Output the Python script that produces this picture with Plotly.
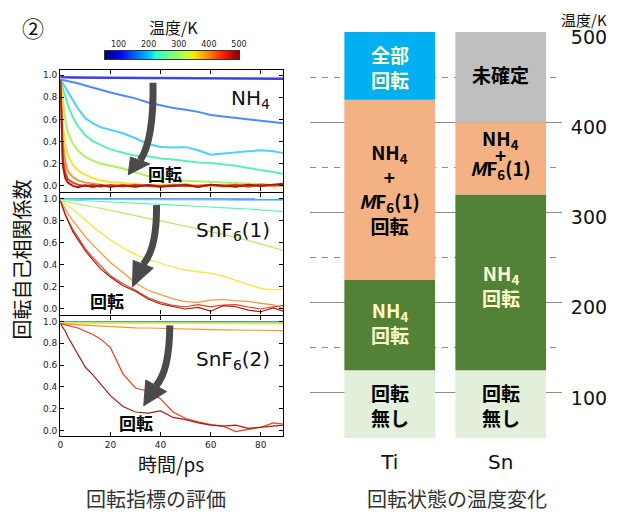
import plotly.graph_objects as go

W, H = 620, 520
# the page body keeps the browser's default 8px margin, so the figure sits 8px in
OFF_X, OFF_Y = 8, 8
JP = "Noto Sans CJK JP"
SANS = "DejaVu Sans"


def px(x):
    return (x - OFF_X) / W


def py(y):
    return 1 - (y - OFF_Y) / H


# --- rotational autocorrelation curves (left) ---
time_ps = [0, 1, 2, 3, 5, 7, 10, 13, 16, 20, 25, 30, 35, 40, 45, 50, 55, 60, 65, 70, 75, 80, 85, 89]

nh4_100 = [0.980, 0.978, 0.977, 0.977, 0.976, 0.976, 0.975, 0.975, 0.975, 0.974, 0.974, 0.973, 0.972, 0.972, 0.971, 0.970, 0.970, 0.969, 0.968, 0.968, 0.967, 0.966, 0.965, 0.965]
nh4_150 = [0.985, 0.984, 0.983, 0.983, 0.982, 0.982, 0.981, 0.980, 0.980, 0.979, 0.978, 0.977, 0.977, 0.976, 0.975, 0.975, 0.974, 0.973, 0.973, 0.972, 0.971, 0.971, 0.970, 0.970]
nh4_200 = [0.960, 0.956, 0.952, 0.947, 0.937, 0.926, 0.905, 0.885, 0.866, 0.842, 0.815, 0.790, 0.752, 0.725, 0.703, 0.687, 0.668, 0.640, 0.627, 0.614, 0.604, 0.590, 0.572, 0.565]
nh4_250 = [0.960, 0.930, 0.890, 0.850, 0.780, 0.700, 0.610, 0.565, 0.530, 0.505, 0.475, 0.430, 0.378, 0.352, 0.346, 0.350, 0.322, 0.282, 0.290, 0.302, 0.312, 0.322, 0.312, 0.296]
nh4_300 = [0.960, 0.880, 0.800, 0.730, 0.620, 0.540, 0.455, 0.405, 0.370, 0.330, 0.300, 0.272, 0.268, 0.248, 0.238, 0.226, 0.212, 0.208, 0.196, 0.182, 0.162, 0.142, 0.122, 0.110]
nh4_350 = [0.960, 0.750, 0.600, 0.480, 0.380, 0.320, 0.262, 0.228, 0.202, 0.182, 0.158, 0.120, 0.090, 0.072, 0.056, 0.048, 0.042, 0.034, 0.030, 0.022, 0.018, 0.014, 0.010, 0.006]
nh4_400 = [0.960, 0.550, 0.380, 0.280, 0.190, 0.140, 0.100, 0.070, 0.050, 0.035, 0.028, 0.014, 0.004, 0.012, 0.000, 0.008, -0.005, 0.006, 0.000, 0.010, -0.004, 0.005, 0.000, 0.004]
nh4_450 = [0.960, 0.400, 0.220, 0.130, 0.080, 0.050, 0.030, 0.020, 0.012, 0.000, 0.010, -0.005, 0.008, 0.000, 0.012, -0.004, 0.006, 0.010, -0.006, 0.004, 0.012, 0.000, 0.008, 0.005]
nh4_475 = [0.960, 0.250, 0.120, 0.060, 0.030, 0.012, 0.000, 0.010, -0.006, 0.008, -0.004, 0.010, 0.000, -0.008, 0.006, 0.012, -0.004, 0.008, 0.000, 0.010, -0.006, 0.012, 0.004, 0.010]
nh4_500 = [0.960, 0.180, 0.070, 0.030, 0.000, -0.012, 0.005, -0.010, 0.006, -0.008, 0.004, -0.006, 0.008, -0.004, 0.000, 0.006, -0.010, 0.010, 0.004, -0.006, 0.010, 0.000, 0.012, 0.020]

sn1_100 = [0.998, 0.998, 0.998, 0.998, 0.998, 0.997, 0.997, 0.997, 0.997, 0.997, 0.997, 0.997, 0.997, 0.996, 0.996, 0.996, 0.996, 0.996, 0.996, 0.996, 0.995, 0.995, 0.995, 0.995]
sn1_250 = [0.996, 0.995, 0.995, 0.995, 0.994, 0.994, 0.993, 0.993, 0.992, 0.992, 0.991, 0.990, 0.990, 0.989, 0.989, 0.988, 0.988, 0.987, 0.987, 0.986, 0.986, 0.985, 0.985, 0.985]
sn1_300 = [0.990, 0.990, 0.989, 0.988, 0.986, 0.984, 0.980, 0.977, 0.974, 0.970, 0.965, 0.958, 0.952, 0.945, 0.940, 0.935, 0.928, 0.920, 0.915, 0.910, 0.905, 0.895, 0.888, 0.882]
sn1_350 = [0.980, 0.976, 0.972, 0.968, 0.960, 0.952, 0.938, 0.925, 0.912, 0.893, 0.870, 0.846, 0.822, 0.800, 0.775, 0.752, 0.726, 0.700, 0.676, 0.648, 0.620, 0.590, 0.556, 0.530]
sn1_400 = [0.980, 0.966, 0.951, 0.936, 0.902, 0.866, 0.805, 0.745, 0.690, 0.625, 0.555, 0.492, 0.448, 0.412, 0.380, 0.352, 0.336, 0.322, 0.298, 0.262, 0.222, 0.184, 0.172, 0.180]
sn1_450 = [0.980, 0.940, 0.900, 0.865, 0.800, 0.740, 0.655, 0.580, 0.510, 0.420, 0.330, 0.235, 0.170, 0.130, 0.092, 0.066, 0.060, 0.080, 0.086, 0.074, 0.068, 0.050, 0.038, 0.002]
sn1_475 = [0.980, 0.915, 0.860, 0.810, 0.720, 0.650, 0.545, 0.465, 0.390, 0.300, 0.228, 0.170, 0.102, 0.060, 0.030, 0.020, 0.040, 0.020, 0.036, 0.040, 0.018, 0.000, 0.020, 0.030]
sn1_500 = [0.980, 0.910, 0.850, 0.800, 0.700, 0.630, 0.525, 0.445, 0.365, 0.290, 0.210, 0.160, 0.090, 0.045, 0.020, 0.000, 0.015, -0.020, 0.030, 0.020, -0.010, -0.025, 0.010, -0.020]

sn2_100 = [0.999, 0.999, 0.999, 0.999, 0.999, 0.999, 0.998, 0.998, 0.998, 0.998, 0.998, 0.998, 0.998, 0.998, 0.998, 0.997, 0.997, 0.997, 0.997, 0.997, 0.997, 0.997, 0.997, 0.997]
sn2_250 = [0.996, 0.996, 0.996, 0.996, 0.995, 0.995, 0.995, 0.995, 0.995, 0.994, 0.994, 0.994, 0.994, 0.993, 0.993, 0.993, 0.993, 0.993, 0.992, 0.992, 0.992, 0.992, 0.992, 0.992]
sn2_350 = [0.990, 0.990, 0.990, 0.990, 0.989, 0.989, 0.989, 0.989, 0.988, 0.988, 0.988, 0.988, 0.987, 0.987, 0.987, 0.987, 0.986, 0.986, 0.986, 0.986, 0.985, 0.985, 0.985, 0.985]
sn2_400 = [0.985, 0.985, 0.984, 0.984, 0.984, 0.983, 0.983, 0.983, 0.982, 0.982, 0.982, 0.981, 0.981, 0.981, 0.980, 0.980, 0.980, 0.979, 0.979, 0.979, 0.978, 0.978, 0.978, 0.978]
sn2_450 = [0.980, 0.978, 0.976, 0.975, 0.972, 0.970, 0.966, 0.962, 0.958, 0.952, 0.946, 0.942, 0.940, 0.936, 0.932, 0.930, 0.928, 0.925, 0.923, 0.922, 0.920, 0.918, 0.917, 0.916]
sn2_475 = [0.980, 0.975, 0.970, 0.965, 0.955, 0.940, 0.910, 0.880, 0.840, 0.760, 0.520, 0.390, 0.360, 0.290, 0.170, 0.110, 0.080, 0.055, 0.040, -0.010, 0.010, 0.030, 0.070, 0.060]
sn2_500 = [0.980, 0.950, 0.910, 0.860, 0.780, 0.700, 0.580, 0.510, 0.430, 0.320, 0.220, 0.170, 0.160, 0.180, 0.120, 0.100, 0.070, 0.050, 0.040, 0.050, 0.020, 0.030, 0.040, 0.050]

TEMP_COLORS = {
    100: "#3c3ce0", 150: "#7272ff", 200: "#4a8cff", 250: "#4dcfff", 300: "#5ef0b0",
    350: "#b2f060", 400: "#ffe033", 450: "#ff9233", 475: "#f03c1e", 500: "#a01e14",
}

panels = [
    ("1", 2.0, [(150, nh4_150), (100, nh4_100), (200, nh4_200), (250, nh4_250), (300, nh4_300),
                (350, nh4_350), (400, nh4_400), (450, nh4_450), (475, nh4_475), (500, nh4_500)]),
    ("2", 1.2, [(100, sn1_100), (250, sn1_250), (300, sn1_300), (350, sn1_350), (400, sn1_400),
                (450, sn1_450), (475, sn1_475), (500, sn1_500)]),
    ("3", 1.2, [(100, sn2_100), (250, sn2_250), (350, sn2_350), (400, sn2_400), (450, sn2_450),
                (475, sn2_475), (500, sn2_500)]),
]

# temperature scale strip (colour key)
scale_ends = [55, 500]
scale_ticks = [100, 200, 300, 400, 500]

# --- rotation-state temperature ranges (right) ---
metals = ["Ti", "Sn"]
ti_edges = [50, 125, 225, 425, 500]
sn_edges = [50, 125, 320, 400, 500]
ti_colors = ["#e2efda", "#538135", "#f4b183", "#00b0f0"]
sn_colors = ["#e2efda", "#538135", "#f4b183", "#bfbfbf"]
temp_ticks = [100, 200, 300, 400, 500]
temp_minor = [50, 150, 250, 350, 450]

JET = [[0.0, "#00007f"], [0.11, "#0000ff"], [0.34, "#00d4ff"], [0.375, "#29ffce"],
       [0.5, "#7dff7a"], [0.625, "#ceff29"], [0.66, "#ffe600"], [0.75, "#ff9700"],
       [0.89, "#ff1300"], [1.0, "#7f0000"]]

fig = go.Figure()

for n, width, curves in panels:
    ax = "" if n == "1" else n
    for temp, vals in curves:
        fig.add_trace(go.Scatter(
            x=time_ps, y=vals, mode="lines",
            line=dict(color=TEMP_COLORS[temp], width=width),
            xaxis="x" + ax, yaxis="y" + ax, showlegend=False, hoverinfo="skip",
        ))

# colour key drawn as a smoothed 1-row heatmap on its own small axes
fig.add_trace(go.Heatmap(
    x=scale_ends, y=[0], z=[scale_ends], colorscale=JET, zmin=scale_ends[0], zmax=scale_ends[1],
    zsmooth="best", showscale=False, hoverinfo="skip", xaxis="x5", yaxis="y5",
))

for i in range(4):
    fig.add_trace(go.Bar(
        x=metals,
        y=[ti_edges[i + 1] - ti_edges[i], sn_edges[i + 1] - sn_edges[i]],
        base=[ti_edges[i], sn_edges[i]],
        marker=dict(color=[ti_colors[i], sn_colors[i]], line=dict(width=0)),
        width=0.817, xaxis="x4", yaxis="y4", showlegend=False, hoverinfo="skip",
    ))

frame = dict(showline=True, linecolor="black", linewidth=1.3, mirror="ticks",
             ticks="inside", ticklen=4, tickcolor="black", showgrid=False, zeroline=False)
ytick = dict(tickvals=[0, 0.2, 0.4, 0.6, 0.8, 1.0], ticktext=["0.0", "0.2", "0.4", "0.6", "0.8", "1.0"],
             tickfont=dict(size=9, color="#222", family=SANS), range=[-0.05, 1.05])
xdom = [px(60.3), px(283.3)]
xtick = dict(tickvals=[0, 20, 40, 60, 80], range=[0, 89], domain=xdom)

fig.update_layout(
    width=W, height=H, margin=dict(l=0, r=0, t=0, b=0, autoexpand=False),
    paper_bgcolor="white", plot_bgcolor="white", barmode="overlay", showlegend=False,
    font=dict(family=SANS, color="#111"),
    xaxis=dict(**frame, **xtick, anchor="y", showticklabels=False),
    yaxis=dict(**frame, **ytick, anchor="x", domain=[py(191.5), py(69.5)]),
    xaxis2=dict(**frame, **xtick, anchor="y2", showticklabels=False),
    yaxis2=dict(**frame, **ytick, anchor="x2", domain=[py(314.5), py(193)]),
    xaxis3=dict(**frame, **xtick, anchor="y3", tickfont=dict(size=9, color="#222", family=SANS)),
    yaxis3=dict(**frame, **ytick, anchor="x3", domain=[py(436), py(316)]),
    xaxis4=dict(domain=[px(310), px(562)], range=[-0.718, 1.552], anchor="y4",
                showline=False, showgrid=False, zeroline=False,
                ticks="outside", ticklen=6, tickcolor="rgba(0,0,0,0)",
                tickfont=dict(size=20, color="#111", family=SANS)),
    yaxis4=dict(domain=[py(438), py(32)], range=[50, 500], anchor="x4", side="right",
                tickvals=temp_ticks, showgrid=True, gridcolor="#8c8c8c", gridwidth=1.2,
                zeroline=False, showline=False, ticks="outside", ticklen=4,
                tickcolor="rgba(0,0,0,0)", ticklabelshift=5,
                tickfont=dict(size=19, color="#111", family=SANS),
                minor=dict(tickvals=temp_minor, showgrid=True, gridcolor="#8c8c8c",
                           gridwidth=1.2, griddash="6px,6px")),
    xaxis5=dict(domain=[px(105), px(239)], range=scale_ends, anchor="y5", side="top",
                tickvals=scale_ticks, ticks="", showgrid=False, zeroline=False,
                showline=True, mirror=True, linecolor="#333", linewidth=1,
                tickfont=dict(size=8, color="#222", family=SANS)),
    yaxis5=dict(domain=[py(59), py(51)], range=[-0.5, 0.5], anchor="x5",
                showticklabels=False, ticks="", showgrid=False, zeroline=False,
                showline=True, mirror=True, linecolor="#333", linewidth=1),
)

# curved arrows in each panel
ARROW = "#4a4a4a"
arrows = [
    ("", (37.0, 0.93), (37.4, 0.42), (31.9, 0.23), [(27.1, 0.10), (28.0, 0.26), (35.7, 0.20)]),
    ("2", (38.4, 0.94), (38.6, 0.55), (33.1, 0.405), [(28.8, 0.20), (29.1, 0.44), (37.1, 0.37)]),
    ("3", (43.7, 0.964), (43.6, 0.55), (38.2, 0.41), [(33.3, 0.227), (34.1, 0.464), (42.4, 0.357)]),
]
for ax, p0, pc, p1, head in arrows:
    fig.add_shape(type="path", xref="x" + ax, yref="y" + ax,
                  path=f"M {p0[0]},{p0[1]} Q {pc[0]},{pc[1]} {p1[0]},{p1[1]}",
                  line=dict(color=ARROW, width=7))
    fig.add_shape(type="path", xref="x" + ax, yref="y" + ax,
                  path="M {},{} L {},{} L {},{} Z".format(*head[0], *head[1], *head[2]),
                  fillcolor=ARROW, line=dict(color=ARROW, width=1))

ann = []
# panel names and "回転" labels
for ax, x, y, text in [("", 84.3, 0.78, "NH<sub>4</sub>"), ("2", 84.3, 0.71, "SnF<sub>6</sub>(1)"),
                       ("3", 84.3, 0.645, "SnF<sub>6</sub>(2)")]:
    ann.append(dict(x=x, y=y, xref="x" + ax, yref="y" + ax, text=text, showarrow=False,
                    xanchor="right", font=dict(size=20, color="#111", family=SANS)))
for ax, x, y in [("", 41.7, 0.11), ("2", 18.7, 0.075), ("3", 30.4, 0.07)]:
    ann.append(dict(x=x, y=y, xref="x" + ax, yref="y" + ax, text="<b>回転</b>", showarrow=False,
                    font=dict(size=17, color="#000", family=JP)))

# bar segment labels
PALE = "#ffffcc"
bar_labels = [
    ("Ti", 86.6, "<b>回転<br>無し</b>", "#000"),
    ("Sn", 86.6, "<b>回転<br>無し</b>", "#000"),
    ("Ti", 178.6, "<b>NH<sub>4</sub><br>回転</b>", PALE),
    ("Sn", 219.6, "<b>NH<sub>4</sub><br>回転</b>", PALE),
    ("Ti", 327.0, "<b>NH<sub>4</sub><br>+<br><i>M</i>F<sub>6</sub>(1)<br>回転</b>", "#000"),
    ("Ti", 460.7, "<b>全部<br>回転</b>", PALE),
    ("Sn", 453.4, "<b>未確定</b>", "#000"),
    ("Sn", 381.5, "<b>NH<sub>4</sub></b>", "#000"),
    ("Sn", 364.5, "<b>+</b>", "#000"),
    ("Sn", 348.5, "<b><i>M</i>F<sub>6</sub>(1)</b>", "#000"),
]
for x, y, text, color in bar_labels:
    ann.append(dict(x=x, y=y, xref="x4", yref="y4", text=text, showarrow=False,
                    font=dict(size=19, color=color, family=JP)))

# free texts
free = [
    (33, 27, "②", 22, "#111", 0),
    (173, 27, "温度/K", 16, "#111", 0),
    (584, 19, "温度/K", 15, "#111", 0),
    (21, 259.5, "回転自己相関係数", 20, "#111", -90),
    (171, 463, "時間/ps", 19, "#111", 0),
    (156, 498, "回転指標の評価", 20, "#333", 0),
    (457, 498, "回転状態の温度変化", 20, "#333", 0),
]
for x, y, text, size, color, angle in free:
    ann.append(dict(x=px(x), y=py(y), xref="paper", yref="paper", text=text, showarrow=False,
                    textangle=angle, xanchor="center", yanchor="middle",
                    font=dict(size=size, color=color, family=JP)))

fig.update_layout(annotations=ann)

fig.write_html("out.html")
